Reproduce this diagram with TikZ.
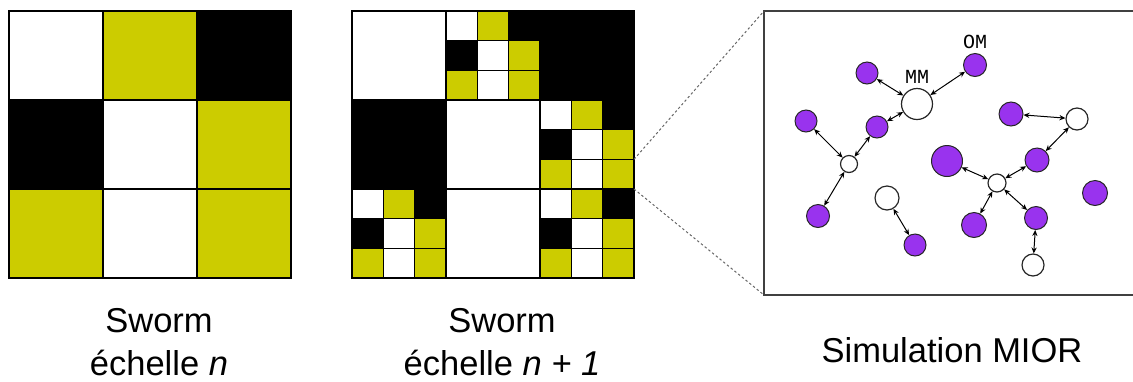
\documentclass[tikz,border=0pt]{standalone}
\usepackage{fontspec}
\setmainfont{Liberation Sans}
\setmonofont{Liberation Mono}
\usetikzlibrary{positioning,arrows.meta}
\definecolor{swyellow}{RGB}{204,204,0}
\definecolor{miorpurple}{RGB}{153,51,238}
\tikzset{
    cell/.style={draw=black, line width=0.8pt},
    agent/.style={circle, draw=black!85, fill=miorpurple, line width=0.5pt, inner sep=0pt, minimum size=#1},
    agent/.default=11pt,
    meta/.style={circle, draw=black!85, fill=white, line width=0.6pt, inner sep=0pt, minimum size=#1},
    meta/.default=11pt,
    link/.style={{Stealth[length=3pt,width=2.6pt]}-{Stealth[length=3pt,width=2.6pt]}, line width=0.5pt},
    zoomline/.style={black!60, line width=0.5pt, dash pattern=on 1.2pt off 1.2pt},
    agentlabel/.style={font=\ttfamily\fontsize{10}{12}\selectfont, inner sep=0pt},
    caption/.style={font=\fontsize{17.25}{21.5}\selectfont, align=center, inner sep=0pt},
}
\begin{document}
\begin{tikzpicture}[x=0.5pt,y=-0.5pt]
    \useasboundingbox (0,0) rectangle (1133,381);
    % sworm, level n
    \foreach \c [count=\i from 0] in {white,swyellow,black,black,white,swyellow,swyellow,white,swyellow} {
        \pgfmathtruncatemacro\col{mod(\i,3)}
        \pgfmathtruncatemacro\row{\i/3}
        \filldraw[cell, fill=\c] ({9+94*\col},{11+89*\row}) rectangle ++(94,89);
    }
    % sworm, level n+1: plain cells
    \foreach \col/\row/\c in {0/0/white,2/0/black,0/1/black,1/1/white,1/2/white}
        \filldraw[cell, fill=\c] ({352+94*\col},{11+89*\row}) rectangle ++(94,89);
    % sworm, level n+1: split cells
    \foreach \col/\row in {1/0,2/1,0/2,2/2} {
        \foreach \c [count=\i from 0] in {white,swyellow,black,black,white,swyellow,swyellow,white,swyellow} {
            \pgfmathtruncatemacro\sc{mod(\i,3)}
            \pgfmathtruncatemacro\sr{\i/3}
            \filldraw[cell, fill=\c] ({352+94*\col+94/3*\sc},{11+89*\row+89/3*\sr}) rectangle ++(94/3,89/3);
        }
    }
    % zoom onto one cell
    \coordinate (zoomne) at (634,159.3);
    \coordinate (zoomse) at (634,189);
    \coordinate (boxnw) at (764,11);
    \coordinate (boxsw) at (764,295);
    \draw[black!75, line width=0.6pt] (boxnw) rectangle (1134,295);
    \draw[zoomline] (zoomne) -- (boxnw);
    \draw[zoomline] (zoomse) -- (boxsw);
    % MIOR agents
    \node[meta=15.5pt] (mm) at (917,104) {};
    \node[agent=11.5pt] (om) at (975,65) {};
    \node[agentlabel, above=2pt of mm] (mmlabel) {MM};
    \node[agentlabel, above=2pt of om] (omlabel) {OM};
    \node[agent=11pt] (a1) at (867,73) {};
    \node[agent=11pt] (a2) at (806,121) {};
    \node[agent=11pt] (a3) at (877,127) {};
    \node[agent=11.5pt] (a4) at (818,216) {};
    \node[agent=11pt] (a5) at (915,245) {};
    \node[agent=12pt] (a6) at (1011,114) {};
    \node[agent=15.5pt] (a7) at (947,161) {};
    \node[agent=12pt] (a8) at (1037,160) {};
    \node[agent=12.5pt] (a9) at (1095,193) {};
    \node[agent=12.5pt] (a10) at (974,225) {};
    \node[agent=11.5pt] (a11) at (1036,218) {};
    \node[meta=8.5pt] (m1) at (849,164) {};
    \node[meta=12pt] (m2) at (887,198) {};
    \node[meta=11pt] (m3) at (1077,119) {};
    \node[meta=9pt] (m4) at (997,183) {};
    \node[meta=11pt] (m5) at (1033,265) {};
    \draw[link] (mm) -- (a1);
    \draw[link] (mm) -- (om);
    \draw[link] (mm) -- (a3);
    \draw[link] (a3) -- (m1);
    \draw[link] (m1) -- (a2);
    \draw[link] (m1) -- (a4);
    \draw[link] (m2) -- (a5);
    \draw[link] (m3) -- (a6);
    \draw[link] (m3) -- (a8);
    \draw[link] (m4) -- (a7);
    \draw[link] (m4) -- (a8);
    \draw[link] (m4) -- (a10);
    \draw[link] (m4) -- (a11);
    \draw[link] (a11) -- (m5);
    % captions
    \node[caption, anchor=north] (capn) at (159,308) {Sworm\\échelle \textit{n}};
    \node[caption, anchor=north] (capnext) at (502,308) {Sworm\\échelle \textit{n + 1}};
    \node[caption, anchor=base] (capmior) at (952,362) {Simulation MIOR};
\end{tikzpicture}
\end{document}
